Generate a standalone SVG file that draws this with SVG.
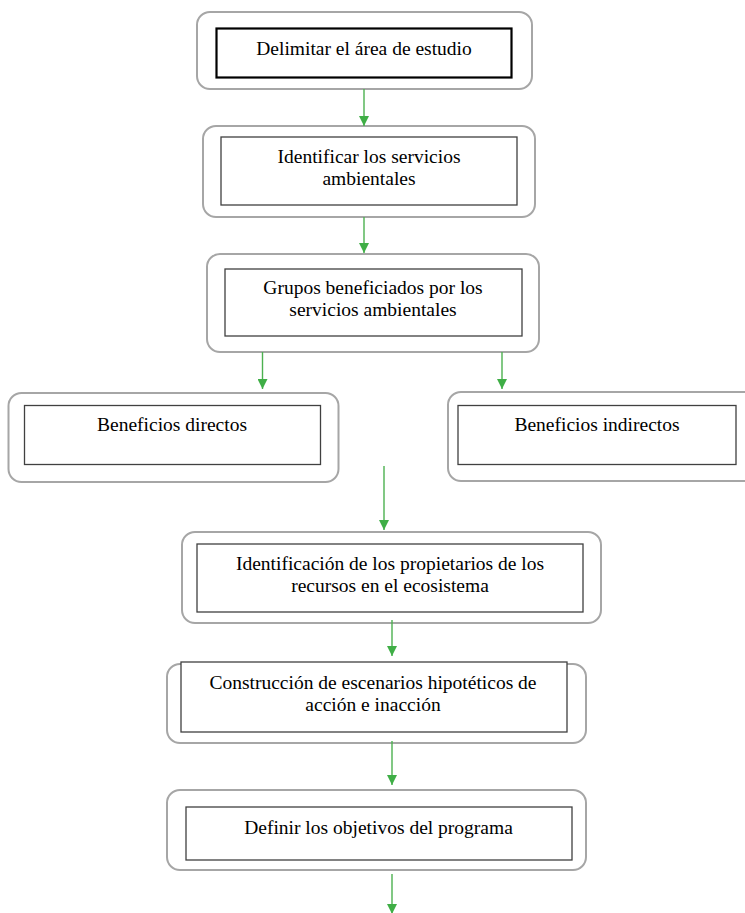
<svg xmlns="http://www.w3.org/2000/svg" width="745" height="913" viewBox="0 0 745 913">
<style>
.outer{fill:#fff;stroke:#a6a6a6;stroke-width:2}
.inner{fill:#fff;stroke:#404040;stroke-width:1.3}
text{font-family:'Liberation Serif',serif;font-size:19.5px;fill:#000;text-anchor:middle}
.c{stroke:#4cb150;stroke-width:1.4;fill:none}
</style>
<defs>
<marker id="ah" markerWidth="10" markerHeight="10" refX="10" refY="5" orient="auto" markerUnits="userSpaceOnUse">
<path d="M0,0 L10,5 L0,10 Z" fill="#3fae46"/>
</marker>
</defs>
<rect width="745" height="913" fill="#fff"/>
<g id="n1">
<rect class="outer" x="197" y="12" width="335" height="77" rx="13"/>
<rect x="216.5" y="28.5" width="295" height="49" fill="#fff" stroke="#000" stroke-width="2.2"/>
<text x="364" y="55">Delimitar el área de estudio</text>
</g>
<g id="n2">
<rect class="outer" x="203" y="126" width="332" height="91" rx="13"/>
<rect class="inner" x="221" y="137" width="296" height="68"/>
<text x="369" y="163">Identificar los servicios</text>
<text x="369" y="185">ambientales</text>
</g>
<g id="n3">
<rect class="outer" x="207" y="254" width="332" height="98" rx="13"/>
<rect class="inner" x="225" y="269" width="297" height="67"/>
<text x="373" y="294">Grupos beneficiados por los</text>
<text x="373" y="316">servicios ambientales</text>
</g>
<g id="n4">
<rect class="outer" x="8.5" y="393" width="330" height="89" rx="13"/>
<rect class="inner" x="24.5" y="405.5" width="296" height="59"/>
<text x="172" y="431">Beneficios directos</text>
</g>
<g id="n5">
<rect class="outer" x="448" y="392" width="310" height="89" rx="13"/>
<rect class="inner" x="458" y="405.5" width="278" height="59"/>
<text x="597" y="431">Beneficios indirectos</text>
</g>
<g id="n6">
<rect class="outer" x="182" y="532" width="419" height="91" rx="13"/>
<rect class="inner" x="197" y="544" width="386" height="68"/>
<text x="390" y="570">Identificación de los propietarios de los</text>
<text x="390" y="592">recursos en el ecosistema</text>
</g>
<g id="n7">
<rect class="outer" x="167" y="664" width="419" height="79" rx="13"/>
<rect class="inner" x="181" y="662" width="386" height="70"/>
<text x="373" y="689">Construcción de escenarios hipotéticos de</text>
<text x="373" y="711">acción e inacción</text>
</g>
<g id="n8">
<rect class="outer" x="167" y="790" width="419" height="80" rx="13"/>
<rect class="inner" x="186" y="807" width="386" height="53"/>
<text x="378.5" y="834">Definir los objetivos del programa</text>
</g>
<g id="connectors">
<line class="c" x1="364" y1="89" x2="364" y2="126" marker-end="url(#ah)"/>
<line class="c" x1="364" y1="217" x2="364" y2="253" marker-end="url(#ah)"/>
<line class="c" x1="262.5" y1="352" x2="262.5" y2="389" marker-end="url(#ah)"/>
<line class="c" x1="502" y1="352" x2="502" y2="389" marker-end="url(#ah)"/>
<line class="c" x1="384" y1="466" x2="384" y2="530" marker-end="url(#ah)"/>
<line class="c" x1="392" y1="620" x2="392" y2="656" marker-end="url(#ah)"/>
<line class="c" x1="392" y1="741" x2="392" y2="785" marker-end="url(#ah)"/>
<line class="c" x1="392" y1="874" x2="392" y2="914" marker-end="url(#ah)"/>
</g>
</svg>
